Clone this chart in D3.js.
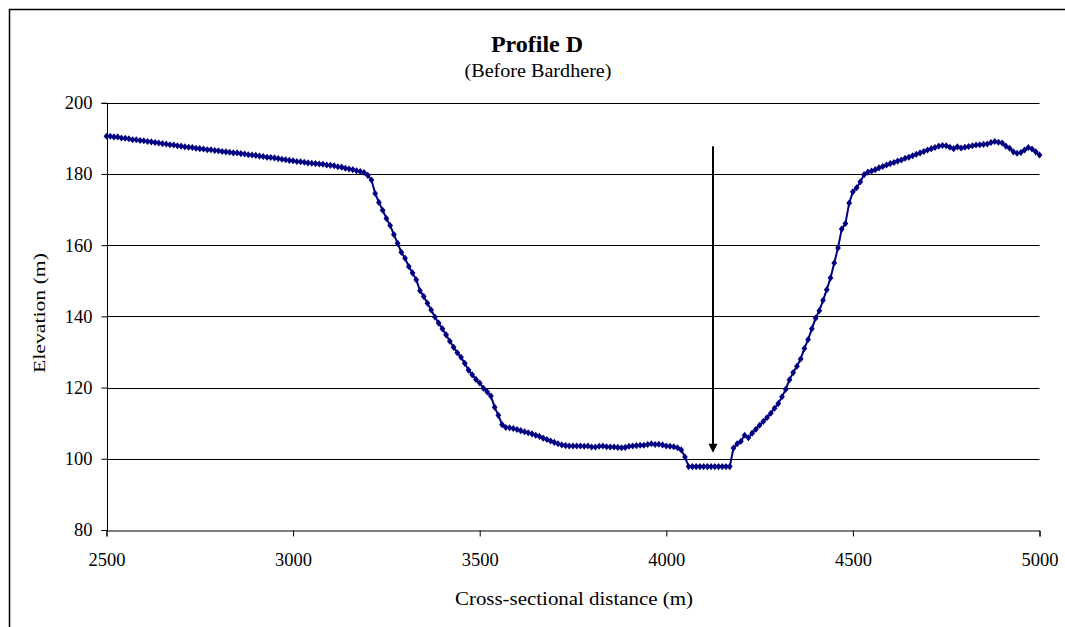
<!DOCTYPE html>
<html>
<head>
<meta charset="utf-8">
<script src="https://cdn.jsdelivr.net/npm/d3@7"></script>
<style>
  body { margin: 0; background: #fff; }
  svg { display: block; font-family: "Liberation Serif", "Times New Roman", serif; }
</style>
</head>
<body>
<svg id="chart" width="1065" height="627"></svg>
<script>
// cross-section survey, [distance (m), elevation (m)]
var upperLeftBank = [
  [2500, 190.6], [2510, 190.6], [2520, 190.4], [2530, 190.4], [2540, 190.1],
  [2550, 190.0], [2560, 189.9], [2570, 189.6], [2580, 189.6], [2590, 189.4],
  [2600, 189.3], [2610, 189.1], [2620, 189.0], [2630, 188.8], [2640, 188.7],
  [2650, 188.5], [2660, 188.4], [2670, 188.2], [2680, 188.1], [2690, 187.9],
  [2700, 187.8], [2710, 187.6], [2720, 187.5], [2730, 187.4], [2740, 187.2],
  [2750, 187.1], [2760, 187.0], [2770, 186.8], [2780, 186.8], [2790, 186.6],
  [2800, 186.5], [2810, 186.3], [2820, 186.2], [2830, 186.1], [2840, 185.9],
  [2850, 185.9], [2860, 185.7], [2870, 185.6], [2880, 185.4], [2890, 185.3],
  [2900, 185.2], [2910, 185.0], [2920, 184.9], [2930, 184.7], [2940, 184.6],
  [2950, 184.5], [2960, 184.3], [2970, 184.1], [2980, 184.0], [2990, 183.8],
  [3000, 183.7], [3010, 183.5], [3020, 183.4], [3030, 183.3], [3040, 183.1],
  [3050, 183.0], [3060, 182.9], [3070, 182.8], [3080, 182.7], [3090, 182.5],
  [3100, 182.4], [3110, 182.3], [3120, 182.0], [3130, 181.9], [3140, 181.6],
  [3150, 181.4], [3160, 181.2], [3170, 180.9], [3180, 180.7], [3190, 180.4]
];

var leftSlope = [
  [3200, 179.6], [3210, 178.3], [3220, 174.5], [3230, 172.0], [3240, 169.8],
  [3250, 167.5], [3260, 165.5], [3270, 163.0], [3280, 160.5], [3290, 158.0],
  [3300, 156.3], [3310, 154.0], [3320, 152.2], [3330, 150.3], [3340, 147.2],
  [3350, 145.6], [3360, 143.7], [3370, 141.8], [3380, 139.8], [3390, 138.1],
  [3400, 136.5], [3410, 134.8], [3420, 133.0], [3430, 131.3], [3440, 129.8],
  [3450, 128.5], [3460, 126.8], [3470, 124.9], [3480, 123.6], [3490, 122.3],
  [3500, 121.3], [3510, 119.8], [3520, 118.8], [3530, 117.6], [3540, 114.5],
  [3550, 112.2], [3560, 109.6]
];

var floodPlain = [
  [3570, 108.8], [3580, 108.7], [3590, 108.5], [3600, 108.2], [3610, 107.9],
  [3620, 107.6], [3630, 107.3], [3640, 107.0], [3650, 106.6], [3660, 106.3],
  [3670, 105.8], [3680, 105.4], [3690, 105.0], [3700, 104.6], [3710, 104.2],
  [3720, 103.9], [3730, 103.7], [3740, 103.6], [3750, 103.6], [3760, 103.6],
  [3770, 103.6], [3780, 103.5], [3790, 103.6], [3800, 103.3], [3810, 103.3],
  [3820, 103.5], [3830, 103.6], [3840, 103.4], [3850, 103.3], [3860, 103.3],
  [3870, 103.2], [3880, 103.1], [3890, 103.2], [3900, 103.5], [3910, 103.6],
  [3920, 103.7], [3930, 103.8], [3940, 103.8], [3950, 104.0], [3960, 104.2],
  [3970, 104.0], [3980, 104.1], [3990, 103.9], [4000, 103.6], [4010, 103.5],
  [4020, 103.4], [4030, 103.1], [4040, 102.5], [4050, 100.5]
];

var channelBed = [
  [4060, 97.8], [4070, 97.8], [4080, 97.8], [4090, 97.8], [4100, 97.8],
  [4110, 97.8], [4120, 97.8], [4130, 97.8], [4140, 97.8], [4150, 97.8],
  [4160, 97.8], [4170, 97.8]
];

var rightSlope = [
  [4180, 103.0], [4190, 104.2], [4200, 104.9], [4210, 106.6], [4220, 105.9],
  [4230, 107.2], [4240, 108.3], [4250, 109.4], [4260, 110.5], [4270, 111.6],
  [4280, 112.8], [4290, 114.2], [4300, 115.5], [4310, 117.4], [4320, 119.5],
  [4330, 122.2], [4340, 124.2], [4350, 126.0], [4360, 128.0], [4370, 131.0],
  [4380, 133.5], [4390, 136.5], [4400, 139.5], [4410, 141.6], [4420, 144.5],
  [4430, 147.5], [4440, 150.8], [4450, 155.0], [4460, 159.2], [4470, 164.5],
  [4480, 166.1], [4490, 171.8], [4500, 175.0], [4510, 176.1], [4520, 177.8],
  [4530, 179.8], [4540, 180.5], [4550, 180.8], [4560, 181.2], [4570, 181.7]
];

var upperRightBank = [
  [4580, 182.1], [4590, 182.5], [4600, 182.9], [4610, 183.2], [4620, 183.6],
  [4630, 183.9], [4640, 184.4], [4650, 184.7], [4660, 185.1], [4670, 185.5],
  [4680, 185.9], [4690, 186.3], [4700, 186.7], [4710, 187.1], [4720, 187.4],
  [4730, 187.8], [4740, 188.0], [4750, 187.9], [4760, 187.5], [4770, 187.1],
  [4780, 187.6], [4790, 187.3], [4800, 187.5], [4810, 187.7], [4820, 187.9],
  [4830, 188.1], [4840, 188.2], [4850, 188.3], [4860, 188.4], [4870, 188.8],
  [4880, 189.1], [4890, 188.9], [4900, 188.7], [4910, 187.8], [4920, 187.2],
  [4930, 186.2], [4940, 185.8], [4950, 186.0], [4960, 186.7], [4970, 187.4],
  [4980, 187.0], [4990, 186.2], [5000, 185.3]
];

var xTicks = [2500, 3000, 3500, 4000, 4500, 5000];
var yTicks = [80, 100, 120, 140, 160, 180, 200];

// deepest point marker: distance, top and tip elevation
var thalwegArrow = [4125, 187.8, 101.7];

var title = 'Profile D';
var subtitle = '(Before Bardhere)';
var xTitle = 'Cross-sectional distance (m)';
var yTitle = 'Elevation (m)';

var profile = [].concat(upperLeftBank, leftSlope, floodPlain, channelBed, rightSlope, upperRightBank);

var svg = d3.select('#chart');
var ink = '#000';
var seriesColor = '#000080';

var x = d3.scaleLinear().domain([2500, 5000]).range([106.5, 1039.5]);
var y = d3.scaleLinear().domain([80, 200]).range([530, 102.7]);

function crisp(v) {
  return Math.round(v) + 0.5;
}

// frame round the whole chart (left and top edges show)
svg.append('path')
  .attr('d', 'M9.5,627 V9.5 H1065')
  .attr('fill', 'none')
  .attr('stroke', ink)
  .attr('stroke-width', 1.5);

// gridlines
svg.append('g')
  .attr('class', 'grid')
  .selectAll('line')
  .data(yTicks.slice(1))
  .enter()
  .append('line')
    .attr('x1', crisp(x(2500)))
    .attr('x2', x(5000))
    .attr('y1', function (d) { return crisp(y(d)); })
    .attr('y2', function (d) { return crisp(y(d)); })
    .attr('stroke', ink)
    .attr('stroke-width', 1);

// y axis
var yAxis = d3.axisLeft(y)
  .tickValues(yTicks)
  .tickSize(6)
  .tickPadding(9)
  .tickFormat(d3.format('d'));

var yAxisG = svg.append('g')
  .attr('transform', 'translate(' + crisp(x(2500)) + ',0)')
  .call(yAxis);

// x axis
var xAxis = d3.axisBottom(x)
  .tickValues(xTicks)
  .tickSize(6)
  .tickPadding(16)
  .tickFormat(d3.format('d'));

var xAxisG = svg.append('g')
  .attr('transform', 'translate(0,' + crisp(y(80)) + ')')
  .call(xAxis);

[yAxisG, xAxisG].forEach(function (g) {
  g.select('.domain').attr('stroke', ink).attr('stroke-width', 1);
  g.selectAll('.tick line').attr('stroke', ink);
  g.selectAll('.tick text')
    .attr('fill', ink)
    .style('font-family', '"Liberation Serif", "Times New Roman", serif')
    .style('font-size', '18.5px');
});
yAxisG.select('.domain').attr('d', 'M-6,' + crisp(y(200)) + 'H0V' + crisp(y(80)) + 'H-6');

// profile line + markers
var line = d3.line()
  .x(function (d) { return x(d[0]); })
  .y(function (d) { return y(d[1]); });

svg.append('path')
  .datum(profile)
  .attr('d', line)
  .attr('fill', 'none')
  .attr('stroke', seriesColor)
  .attr('stroke-width', 2)
  .attr('stroke-linejoin', 'round');

var marker = d3.symbol().type(d3.symbolDiamond).size(16);

svg.append('g')
  .attr('class', 'markers')
  .selectAll('path')
  .data(profile)
  .enter()
  .append('path')
    .attr('transform', function (d) {
      return 'translate(' + x(d[0]) + ',' + y(d[1]) + ') scale(1.35,0.95)';
    })
    .attr('d', marker)
    .attr('fill', seriesColor);

// arrow to the channel bed
var ax = crisp(x(thalwegArrow[0])) - 0.5;
var aTop = y(thalwegArrow[1]);
var aTip = y(thalwegArrow[2]);

svg.append('line')
  .attr('x1', ax)
  .attr('x2', ax)
  .attr('y1', aTop)
  .attr('y2', aTip - 8)
  .attr('stroke', ink)
  .attr('stroke-width', 2);

svg.append('path')
  .attr('d', 'M' + (ax - 4.5) + ',' + (aTip - 9) + 'L' + (ax + 4.5) + ',' + (aTip - 9) + 'L' + ax + ',' + aTip + 'Z')
  .attr('fill', ink);

// titles
svg.append('text')
  .attr('x', 537)
  .attr('y', 51.5)
  .attr('text-anchor', 'middle')
  .attr('font-size', 24)
  .attr('font-weight', 'bold')
  .attr('fill', ink)
  .text(title);

svg.append('text')
  .attr('x', 538)
  .attr('y', 77)
  .attr('text-anchor', 'middle')
  .attr('font-size', 19)
  .attr('textLength', 147)
  .attr('lengthAdjust', 'spacingAndGlyphs')
  .attr('fill', ink)
  .text(subtitle);

svg.append('text')
  .attr('x', 574)
  .attr('y', 605)
  .attr('text-anchor', 'middle')
  .attr('font-size', 19)
  .attr('textLength', 238)
  .attr('lengthAdjust', 'spacingAndGlyphs')
  .attr('fill', ink)
  .text(xTitle);

svg.append('text')
  .attr('transform', 'translate(45,313) rotate(-90)')
  .attr('text-anchor', 'middle')
  .attr('font-size', 17)
  .attr('textLength', 120)
  .attr('lengthAdjust', 'spacingAndGlyphs')
  .attr('fill', ink)
  .text(yTitle);
</script>
</body>
</html>
